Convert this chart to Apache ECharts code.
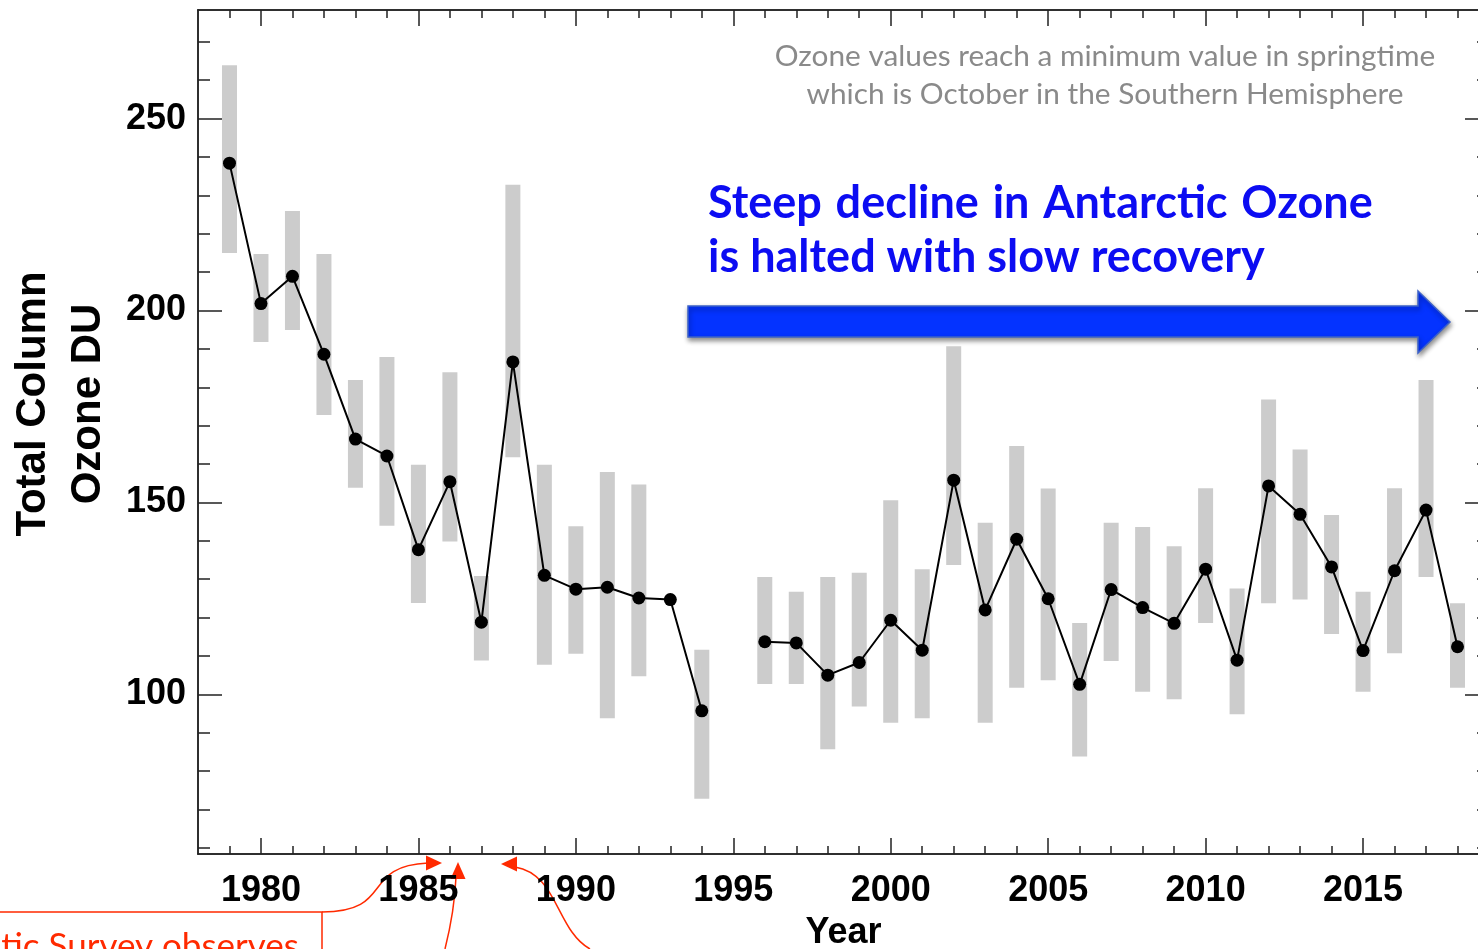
<!DOCTYPE html>
<html>
<head>
<meta charset="utf-8">
<script src="https://cdn.jsdelivr.net/npm/echarts@6/dist/echarts.min.js"></script>
<style>
html,body{margin:0;padding:0;background:#fff;}
#chart{width:1478px;height:949px;}
</style>
</head>
<body>
<div id="chart"></div>
<script>
// ---- data ----
const years = [1979,1980,1981,1982,1983,1984,1985,1986,1987,1988,1989,1990,1991,1992,1993,1994,1995,1996,1997,1998,1999,2000,2001,2002,2003,2004,2005,2006,2007,2008,2009,2010,2011,2012,2013,2014,2015,2016,2017,2018];
const ozone = [238.4,201.8,208.9,188.6,166.5,162.1,137.7,155.4,118.8,186.6,131.0,127.4,127.9,125.1,124.7,95.7,null,113.7,113.4,105.0,108.3,119.3,111.5,155.8,122.0,140.4,124.9,102.6,127.3,122.6,118.5,132.6,108.9,154.3,146.9,133.2,111.4,132.2,148.0,112.4];
const rangeLow = [215.0,191.8,194.9,172.8,153.8,143.9,123.8,139.8,108.8,161.8,107.7,110.6,93.8,104.7,null,72.8,null,102.7,102.7,85.7,96.8,92.6,93.8,133.7,92.6,101.7,103.7,83.8,108.7,100.7,98.7,118.6,94.8,123.7,124.7,115.7,100.7,110.7,130.6,101.7];
const rangeHigh = [263.9,214.7,225.9,214.7,181.9,187.9,159.8,183.9,130.8,232.8,159.8,143.8,157.9,154.7,null,111.6,null,130.6,126.7,130.6,131.7,150.6,132.6,190.7,144.7,164.7,153.6,118.6,144.7,143.6,138.6,153.7,127.6,176.8,163.8,146.7,126.7,153.7,181.9,123.7];
const xMajorTicks = [1980,1985,1990,1995,2000,2005,2010,2015];
const xMinorTicks = [1979,1980,1981,1982,1983,1984,1985,1986,1987,1988,1989,1990,1991,1992,1993,1994,1995,1996,1997,1998,1999,2000,2001,2002,2003,2004,2005,2006,2007,2008,2009,2010,2011,2012,2013,2014,2015,2016,2017,2018];
const yMajorTicks = [100,150,200,250];
const yMinorTicks = [60,70,80,90,100,110,120,130,140,150,160,170,180,190,200,210,220,230,240,250,260,270];

const X_MIN = 1978, X_MAX = 2019, Y_MIN = 58.4, Y_MAX = 278.3;

const lineCol = '#222';
const axisLine = {show:true, onZero:false, lineStyle:{color:lineCol, width:1.5}};
const labelFont = {fontFamily:'Liberation Sans', fontWeight:'bold', fontSize:36, color:'#000'};

function xAx(pos, ticks, len, labels, extra){
  return Object.assign({
    type:'value', position:pos, min:X_MIN, max:X_MAX,
    axisLine:axisLine,
    axisTick:{show:true, inside:true, length:len, customValues:ticks, lineStyle:{color:lineCol, width:1.5}},
    axisLabel: labels ? Object.assign({show:true, customValues:ticks, margin:19, formatter:function(v){return String(v);}}, labelFont) : {show:false},
    splitLine:{show:false}
  }, extra||{});
}
function yAx(pos, ticks, len, labels){
  return {
    type:'value', position:pos, min:Y_MIN, max:Y_MAX,
    axisLine:axisLine,
    axisTick:{show:true, inside:true, length:len, customValues:ticks, lineStyle:{color:lineCol, width:1.5}},
    axisLabel: labels ? Object.assign({show:true, customValues:ticks, margin:12, padding:[4,0,0,0], formatter:function(v){return String(v);}}, labelFont) : {show:false},
    splitLine:{show:false}
  };
}

const barData = [];
years.forEach((y,i)=>{ if(rangeLow[i]!==null && rangeHigh[i]!==null) barData.push([y, rangeLow[i], rangeHigh[i]]); });
const lineData = years.map((y,i)=>[y, ozone[i]===null ? '-' : ozone[i]]);

const chart = echarts.init(document.getElementById('chart'), null, {renderer:'canvas'});
const red = '#ff2a00';
chart.setOption({
  animation:false,
  backgroundColor:'#fff',
  grid:{left:198, right:-11, top:10, bottom:95, containLabel:false, outerBoundsMode:'none'},
  xAxis:[
    xAx('bottom', xMajorTicks, 16, true, {name:'Year', nameLocation:'middle', nameGap:61,
      nameTextStyle:{fontFamily:'Liberation Sans', fontWeight:'bold', fontSize:36, color:'#000'}}),
    xAx('bottom', xMinorTicks, 8, false),
    xAx('top', xMajorTicks, 16, false),
    xAx('top', xMinorTicks, 8, false)
  ],
  yAxis:[
    yAx('left', yMajorTicks, 24, true),
    yAx('left', yMinorTicks, 12, false),
    yAx('right', yMajorTicks, 24, false),
    yAx('right', yMinorTicks, 12, false)
  ],
  series:[
    {
      type:'custom', xAxisIndex:0, yAxisIndex:0, data:barData, z:1,
      renderItem:function(params, api){
        const x = api.value(0), lo = api.value(1), hi = api.value(2);
        const p1 = api.coord([x, hi]), p2 = api.coord([x, lo]);
        return {type:'rect', shape:{x:p1[0]-7.5, y:p1[1], width:15, height:p2[1]-p1[1]}, style:{fill:'#cccccc'}};
      }
    },
    {
      type:'line', xAxisIndex:0, yAxisIndex:0, data:lineData, z:3,
      connectNulls:false, symbol:'circle', symbolSize:13,
      itemStyle:{color:'#000'}, lineStyle:{color:'#000', width:2}
    }
  ],
  graphic:[
    {type:'text', x:61, y:404, rotation:Math.PI/2,
      style:{text:'Total Column\nOzone DU', fontFamily:'Liberation Sans', fontWeight:'bold', fontSize:42, lineHeight:55,
        fill:'#000', align:'center', verticalAlign:'middle'}},
    {type:'text', x:1105, y:37,
      style:{text:'Ozone values reach a minimum value in springtime\nwhich is October in the Southern Hemisphere',
        fontFamily:'Lato', fontSize:29.8, lineHeight:38, fill:'#8a8a8a', align:'center', verticalAlign:'top'}},
    {type:'text', x:708, y:176,
      style:{text:'Steep\u200A decline\u200A in\u200A Antarctic\u200A Ozone\nis halted with slow recovery',
        fontFamily:'Lato', fontWeight:'bold', fontSize:45, lineHeight:54, fill:'#0c0cf2', align:'left', verticalAlign:'top'}},
    {type:'polygon', z:10,
      shape:{points:[[688,306],[1418,306],[1418,291],[1450,322],[1418,353],[1418,337],[688,337]]},
      style:{fill:'#0433ff', stroke:'#3d62c8', lineWidth:1.5, shadowBlur:5, shadowOffsetX:1, shadowOffsetY:3, shadowColor:'rgba(0,0,0,0.45)'}},
    // red annotation
    {type:'polyline', shape:{points:[[0,912],[322,912],[322,949]]}, style:{stroke:red, lineWidth:1.5, fill:null}},
    {type:'text', x:299, y:929,
      style:{text:'British Antarctic Survey observes', fontFamily:'Lato', fontSize:35, fill:red, align:'right', verticalAlign:'top'}},
    {type:'bezierCurve', shape:{x1:322, y1:912, cpx1:395, cpy1:912, cpx2:360, cpy2:866, x2:428, y2:863}, style:{stroke:red, lineWidth:1.5, fill:null}},
    {type:'polygon', shape:{points:[[442,863],[426,855.5],[426,870.5]]}, style:{fill:red}},
    {type:'bezierCurve', shape:{x1:445, y1:949, cpx1:451, cpy1:925, cpx2:455, cpy2:900, x2:456, y2:877}, style:{stroke:red, lineWidth:1.5, fill:null}},
    {type:'polygon', shape:{points:[[458,862],[450.5,879],[465.5,879]]}, style:{fill:red}},
    {type:'bezierCurve', shape:{x1:515, y1:867, cpx1:558, cpy1:874, cpx2:556, cpy2:930, x2:590, y2:949}, style:{stroke:red, lineWidth:1.5, fill:null}},
    {type:'polygon', shape:{points:[[501,864],[517,856.5],[517,871.5]]}, style:{fill:red}}
  ]
});
</script>
</body>
</html>
